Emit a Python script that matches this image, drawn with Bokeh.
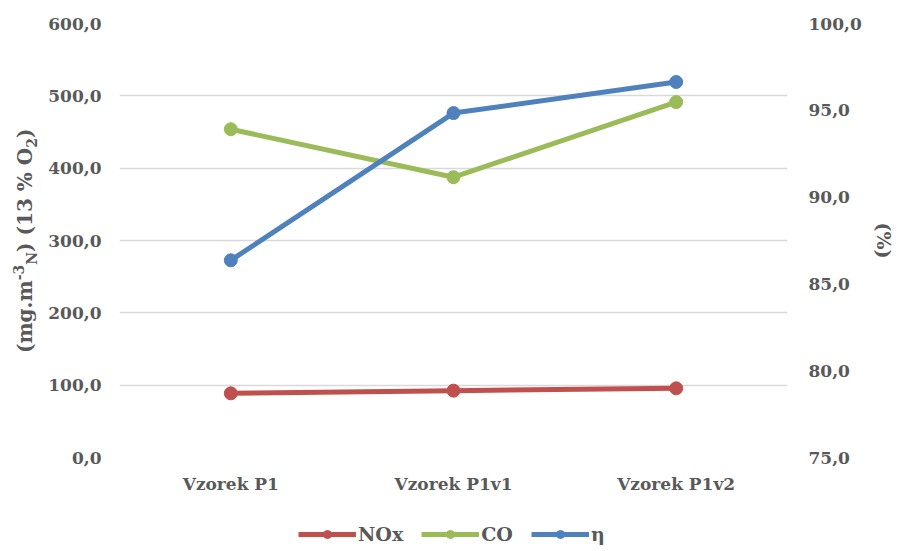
from bokeh.plotting import figure
from bokeh.models import (Range1d, LinearAxis, FixedTicker, CustomJSTickFormatter,
                          Legend, LegendItem, FactorRange, Div)
from bokeh.layouts import row, column
from bokeh.embed import file_html
from bokeh.resources import INLINE

categories = ["Vzorek P1", "Vzorek P1v1", "Vzorek P1v2"]
nox = [88.7, 92.4, 95.6]
co = [453.8, 387.5, 491.4]
eta = [86.36, 94.84, 96.63]
left_ticks = [0, 100, 200, 300, 400, 500, 600]
right_ticks = [75, 80, 85, 90, 95, 100]
series_names = ["NOx", "CO", "η"]

TXT = "#595959"
FONT = "DejaVu Serif"
RED, GREEN, BLUE = "#C0504D", "#9BBB59", "#4F81BD"
COLORS = [RED, GREEN, BLUE]

LEFT_W = 45
W, H = 897, 551
LEG_H = 40
MAIN_H = H - LEG_H

# ---- left axis title (rich text with sub/superscripts, rotated) ----
title_html = (
    '<div style="position:absolute; left:12px; top:353px; transform-origin:0 0; '
    'transform:rotate(-90deg); white-space:nowrap; font-family:\'DejaVu Serif\'; '
    'font-weight:bold; font-size:20px; line-height:1; color:#595959;">'
    '(mg.m<sup style="font-size:14px">-3</sup><sub style="font-size:14px">N</sub>) '
    '(13 % O<sub style="font-size:14px">2</sub>)</div>'
)
t = Div(text=title_html, width=LEFT_W, height=MAIN_H, margin=(0, 0, 0, 0))

# ---- main figure ----
p = figure(width=W - LEFT_W, height=MAIN_H, x_range=FactorRange(*categories),
           y_range=Range1d(0, 600), output_backend="svg", toolbar_location=None,
           min_border_left=118 - LEFT_W, min_border_right=110, min_border_top=23,
           min_border_bottom=MAIN_H - 457, margin=(0, 0, 0, 0))
p.outline_line_color = None
p.extra_y_ranges = {"right": Range1d(75, 100)}

fmt = CustomJSTickFormatter(code="return tick.toFixed(1).replace('.', ',');")

def style_axis(ax):
    ax.axis_line_color = None
    ax.major_tick_line_color = None
    ax.minor_tick_line_color = None
    ax.major_tick_out = 0
    ax.major_tick_in = 0
    ax.minor_tick_out = 0
    ax.minor_tick_in = 0
    ax.major_label_text_font = FONT
    ax.major_label_text_font_style = "bold"
    ax.major_label_text_font_size = "17px"
    ax.major_label_text_color = TXT

style_axis(p.yaxis[0])
p.yaxis[0].ticker = FixedTicker(ticks=left_ticks)
p.yaxis[0].formatter = fmt
p.yaxis[0].major_label_standoff = 18

rax = LinearAxis(y_range_name="right", ticker=FixedTicker(ticks=right_ticks), formatter=fmt)
style_axis(rax)
rax.major_label_standoff = 21
rax.axis_label = "(%)"
rax.axis_label_standoff = 8
rax.axis_label_text_font = FONT
rax.axis_label_text_font_style = "bold"
rax.axis_label_text_font_size = "19px"
rax.axis_label_text_color = TXT
p.add_layout(rax, "right")

style_axis(p.xaxis[0])
p.xaxis[0].major_label_standoff = 16

p.xgrid.grid_line_color = None
p.ygrid.ticker = FixedTicker(ticks=left_ticks)
p.ygrid.grid_line_color = "#D9D9D9"
p.ygrid.grid_line_width = 1.5

for vals, col, rng in zip([nox, co, eta], COLORS, ["default", "default", "right"]):
    p.line(categories, vals, line_color=col, line_width=5, y_range_name=rng)
    p.scatter(categories, vals, size=13, fill_color=col, line_color=col, y_range_name=rng)

# ---- legend figure (legend proxies are the same series, kept out of view) ----
lf = figure(width=W, height=LEG_H, x_range=Range1d(0, 1), y_range=Range1d(0, 1),
            output_backend="svg", toolbar_location=None, x_axis_type=None,
            y_axis_type=None, min_border=0, title=None, margin=(0, 0, 0, 0))
lf.outline_line_color = None
lf.grid.visible = False
items = []
for name, vals, col in zip(series_names, [nox, co, eta], COLORS):
    xs = list(range(len(vals)))
    lr = lf.line(xs, vals, line_color=col, line_width=5)
    sr = lf.scatter(xs, vals, size=13, fill_color=col, line_color=col)
    items.append(LegendItem(label=name, renderers=[lr, sr]))
legend = Legend(items=items, orientation="horizontal", location=(298, 6),
                glyph_width=58, glyph_height=20, label_standoff=2, spacing=18,
                padding=0, margin=0, border_line_color=None,
                background_fill_alpha=0,
                label_text_font=FONT, label_text_font_style="bold",
                label_text_font_size="19px", label_text_color=TXT)
lf.add_layout(legend)

layout = column(row(t, p, spacing=0, margin=(0, 0, 0, 0)), lf, spacing=0, margin=(0, 0, 0, 0))
open("out.html", "w").write(file_html(layout, INLINE))
